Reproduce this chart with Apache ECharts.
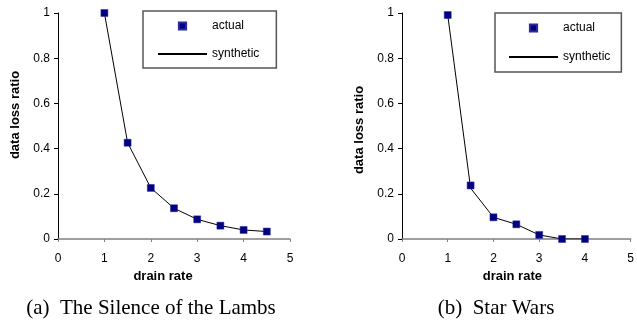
<!DOCTYPE html>
<html>
<head>
<meta charset="utf-8">
<script src="https://cdn.jsdelivr.net/npm/echarts@6/dist/echarts.min.js"></script>
<style>
  html, body { margin: 0; padding: 0; background: #fff; }
  #main { width: 637px; height: 320px; }
</style>
</head>
<body>
<div id="main"></div>
<script>
// drain rate values (x)
const rateA = [1, 1.5, 2, 2.5, 3, 3.5, 4, 4.5]
const rateB = [1, 1.5, 2, 2.5, 3, 3.5, 4]
// (a) The Silence of the Lambs
const actualA = [1.0, 0.426, 0.226, 0.136, 0.087, 0.059, 0.040, 0.033]
const syntheticA = [1.0, 0.426, 0.226, 0.136, 0.087, 0.059, 0.040, 0.033]
// (b) Star Wars
const actualB = [0.991, 0.237, 0.096, 0.065, 0.018, 0.0, 0.0]
const syntheticB = [0.991, 0.225, 0.096, 0.065, 0.018, 0.0, 0.0]
const xTicks = [0, 1, 2, 3, 4, 5]
const yTicks = [0, 0.2, 0.4, 0.6, 0.8, 1]
const captions = ['(a)  The Silence of the Lambs', '(b)  Star Wars']

const chart = echarts.init(document.getElementById('main'))
const font = 'Liberation Sans, Arial, sans-serif'
const pair = (xs, ys) => xs.map((x, i) => [x, ys[i]])

const grids = [
  { left: 58, top: 13, width: 232, height: 226 },
  { left: 402, top: 13, width: 232, height: 226 }
]
// nudges for the axis titles (they are not centred in the original)
const xNamePad = [[0, 22, 0, 0], [0, 8, 0, 0]]
const yNamePad = [[0, 0, 0, 22], [0, 8, 0, 0]]

const xAxes = grids.map((g, i) => ({
  gridIndex: i,
  type: 'value',
  min: xTicks[0],
  max: xTicks[xTicks.length - 1],
  interval: 1,
  name: 'drain rate',
  nameLocation: 'middle',
  nameGap: 29,
  nameTextStyle: { fontFamily: font, fontSize: 13, fontWeight: 'bold', color: '#000', padding: xNamePad[i] },
  axisLine: { lineStyle: { color: '#808080', width: 1.5 } },
  axisTick: { show: true, length: 3, lineStyle: { color: '#808080' } },
  axisLabel: { fontFamily: font, fontSize: 12, color: '#000', margin: 14 },
  splitLine: { show: false }
}))

const yAxes = grids.map((g, i) => ({
  gridIndex: i,
  type: 'value',
  min: yTicks[0],
  max: yTicks[yTicks.length - 1],
  interval: 0.2,
  name: 'data loss ratio',
  nameLocation: 'middle',
  nameGap: 36,
  nameTextStyle: { fontFamily: font, fontSize: 13, fontWeight: 'bold', color: '#000', padding: yNamePad[i] },
  axisLine: { show: true, lineStyle: { color: '#000', width: 1 } },
  axisTick: { show: true, length: 4, lineStyle: { color: '#000' } },
  axisLabel: { fontFamily: font, fontSize: 12, color: '#000', margin: 8 },
  splitLine: { show: false }
}))

const lineSeries = (name, idx, data) => ({
  name: name,
  type: 'line',
  xAxisIndex: idx,
  yAxisIndex: idx,
  data: data,
  symbol: 'none',
  lineStyle: { color: '#000', width: 1 },
  itemStyle: { color: '#000' },
  z: 2
})
// drawn as a line series with a hidden line so the legend icon is a small centred square
const dotSeries = (name, idx, data) => ({
  name: name,
  type: 'line',
  xAxisIndex: idx,
  yAxisIndex: idx,
  data: data,
  symbol: 'rect',
  symbolSize: 7,
  showAllSymbol: true,
  lineStyle: { opacity: 0, width: 0 },
  itemStyle: { color: '#000080', borderColor: '#2a2a9a', borderWidth: 0.5 },
  z: 3
})

const legendBase = {
  orient: 'vertical',
  itemWidth: 49,
  itemHeight: 9,
  borderColor: '#555',
  borderWidth: 1.5,
  textStyle: { fontFamily: font, fontSize: 12, color: '#000' },
  data: ['actual', { name: 'synthetic', itemStyle: { opacity: 0 } }]
}

const option = {
  animation: false,
  backgroundColor: '#fff',
  grid: grids,
  xAxis: xAxes,
  yAxis: yAxes,
  legend: [
    Object.assign({}, legendBase, { left: 143, top: 11, padding: [9, 17, 8, 14], itemGap: 16 }),
    Object.assign({}, legendBase, { left: 495, top: 13, padding: [9, 11, 9, 13], itemGap: 17 })
  ],
  graphic: captions.map((c, i) => ({
    type: 'text',
    x: i === 0 ? 151 : 496,
    y: 308,
    style: {
      text: c,
      fontFamily: 'Liberation Serif, Times New Roman, serif',
      fontSize: 21,
      fill: '#000',
      align: 'center',
      verticalAlign: 'middle'
    }
  })),
  series: [
    lineSeries('synthetic', 0, pair(rateA, syntheticA)),
    dotSeries('actual', 0, pair(rateA, actualA)),
    lineSeries('synthetic', 1, pair(rateB, syntheticB)),
    dotSeries('actual', 1, pair(rateB, actualB))
  ]
}
chart.setOption(option)
</script>
</body>
</html>
